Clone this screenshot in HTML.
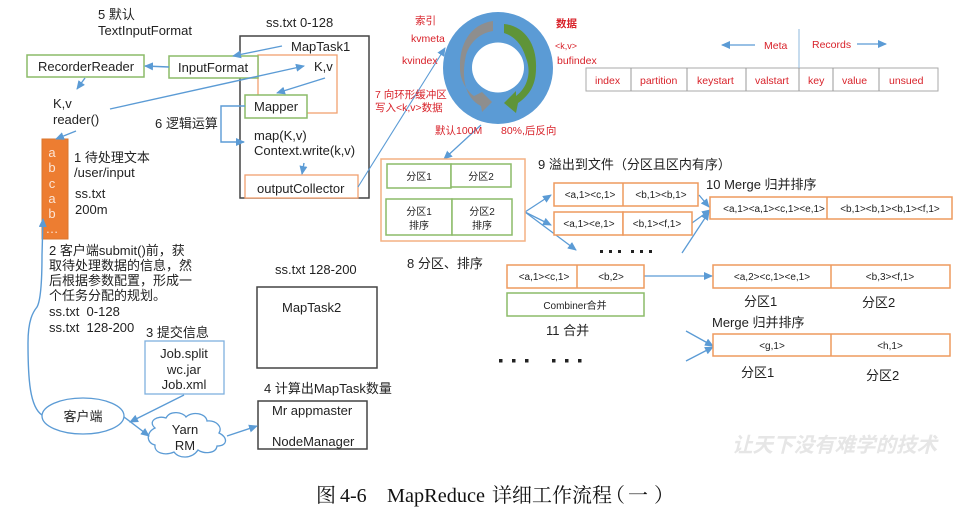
<!DOCTYPE html>
<html><head><meta charset="utf-8"><style>
html,body{margin:0;padding:0;background:#fff}
svg{display:block;filter:blur(.3px)}
text{font-family:"Liberation Sans","Noto Sans CJK SC",sans-serif;fill:#222;font-size:13px}
.r text,text.r{fill:#d8222a;font-size:10.5px}
.s text,text.s{font-size:10px}
.c{text-anchor:middle}
.t{font-family:"Liberation Serif","Noto Serif CJK SC",serif;font-size:20px;fill:#111}
.o{fill:#fbe5d6}
</style></head><body>
<svg width="964" height="515" viewBox="0 0 964 515" xmlns="http://www.w3.org/2000/svg">
<defs>
<marker id="a" markerWidth="9" markerHeight="8" refX="8" refY="4" orient="auto" markerUnits="userSpaceOnUse"><path d="M0,0L9,4L0,8Z" fill="#5B9BD5"/></marker>
</defs>
<!-- boxes -->
<g fill="#fff">
<rect x="240" y="36" width="129" height="162" stroke="#444" stroke-width="1.5"/>
<rect x="258" y="55" width="79" height="58" stroke="#F0A070" stroke-width="1.3"/>
<rect x="27" y="55" width="117" height="22" stroke="#8CBB68" stroke-width="1.5"/>
<rect x="169" y="56" width="89" height="22" stroke="#8CBB68" stroke-width="1.5"/>
<rect x="245" y="95" width="62" height="23" stroke="#8CBB68" stroke-width="1.5"/>
<rect x="245" y="175" width="113" height="23" stroke="#F0A070" stroke-width="1.3"/>
<rect x="42" y="139" width="26" height="100" fill="#ED7D31" stroke="#D9762E"/>
<rect x="145" y="341" width="79" height="53" stroke="#7FB0DE" stroke-width="1.3"/>
<rect x="257" y="287" width="120" height="81" stroke="#444" stroke-width="1.5"/>
<rect x="258" y="401" width="109" height="48" stroke="#444" stroke-width="1.5"/>
<ellipse cx="83" cy="416" rx="41" ry="18" stroke="#5B9BD5" stroke-width="1.3"/>
<path d="M155,428C147,421 158,415 166,418C170,410 183,412 186,417C192,411 206,413 207,421C216,420 223,427 219,433C228,437 228,446 217,446C216,454 203,454 198,450C192,459 179,459 174,452C165,456 154,453 155,445C146,443 146,432 155,428Z" stroke="#5B9BD5" stroke-width="1.3"/>
</g>
<!-- left arrows -->
<g fill="none" stroke="#5B9BD5" stroke-width="1.4">
<path d="M282,46L233,56" marker-end="url(#a)"/>
<path d="M169,67L145,66" marker-end="url(#a)"/>
<path d="M85,78L77,89" marker-end="url(#a)"/>
<path d="M110,109L304,66" marker-end="url(#a)"/>
<path d="M325,78L277,93" marker-end="url(#a)"/>
<path d="M245,106H221V142H244" marker-end="url(#a)"/>
<path d="M304,163L302,174" marker-end="url(#a)"/>
<path d="M76,131L56,139" marker-end="url(#a)"/>
<path d="M358,187L445,48" stroke-width="1.1" marker-end="url(#a)"/>
<path d="M42,415C30,407 28,380 28,343C28,320 33,312 37,307C41,300 42,280 42,255L43,219" marker-end="url(#a)"/>
<path d="M184,395L130,422" marker-end="url(#a)"/>
<path d="M124,417L149,436" marker-end="url(#a)"/>
<path d="M227,436L257,426" marker-end="url(#a)"/>
</g>
<!-- ring -->
<ellipse cx="498" cy="68" rx="55" ry="56" fill="#5B9BD5"/>
<ellipse cx="498" cy="67.5" rx="26" ry="25" fill="#fff"/>
<path d="M493,21C470,24 459,45 460,68C460,80 466,90 474,96L482,92L492,102L482,112L481,106C465,98 461,78 466,55C470,42 480,33 493,31Z" fill="#8E8E8E"/>
<path d="M504,24C525,26 537,45 536,68C536,84 530,95 518,103L516,113L504,103L516,91L516,96C527,88 532,73 526,58C522,44 514,36 504,33Z" fill="#5F9438"/>
<!-- table -->
<rect x="586" y="68" width="352" height="23" fill="#fff" stroke="#aaa"/>
<g stroke="#999"><path d="M631,68V91M687,68V91M746,68V91M799,68V91M833,68V91M879,68V91"/></g>
<path d="M799,29V68" stroke="#8FB8DD"/>
<g fill="none" stroke="#5B9BD5" stroke-width="1.3">
<path d="M755,45H722" marker-end="url(#a)"/>
<path d="M857,44H886" marker-end="url(#a)"/>
<path d="M481,125L444,159" marker-end="url(#a)"/>
<path d="M525,212L551,195" marker-end="url(#a)"/>
<path d="M525,212L551,225" marker-end="url(#a)"/>
<path d="M525,212L576,250" marker-end="url(#a)"/>
<path d="M699,195L709,207" marker-end="url(#a)"/>
<path d="M692,223L710,210" marker-end="url(#a)"/>
<path d="M682,253L709,212" marker-end="url(#a)"/>
<path d="M644,276H712" marker-end="url(#a)"/>
<path d="M686,331L713,346" marker-end="url(#a)"/>
<path d="M686,361L713,347" marker-end="url(#a)"/>
</g>
<!-- right boxes -->
<g fill="#fff" stroke-width="1.5">
<rect x="381" y="159" width="144" height="82" stroke="#F4B183"/>
<g stroke="#8CBB68">
<rect x="387" y="164" width="64" height="24"/><rect x="451" y="164" width="60" height="23"/>
<rect x="386" y="199" width="66" height="36"/><rect x="452" y="199" width="60" height="36"/>
<rect x="507" y="293" width="137" height="23"/>
</g>
<g stroke="#EE9A5E">
<rect x="554" y="183" width="144" height="23"/><path d="M623,183V206"/>
<rect x="554" y="212" width="69" height="23"/><rect x="623" y="212" width="69" height="23"/>
<rect x="710" y="197" width="242" height="22"/><path d="M827,197V219"/>
<rect x="507" y="265" width="137" height="23"/><path d="M577,265V288"/>
<rect x="713" y="265" width="237" height="23"/><path d="M831,265V288"/>
<rect x="713" y="334" width="237" height="22"/><path d="M831,334V356"/>
</g>
</g>
<!-- left text -->
<text x="98" y="19">5 默认</text>
<text x="98" y="35">TextInputFormat</text>
<text x="266" y="27">ss.txt 0-128</text>
<text x="291" y="51">MapTask1</text>
<text x="38" y="71">RecorderReader</text>
<text x="178" y="72">InputFormat</text>
<text x="314" y="71">K,v</text>
<text x="254" y="111">Mapper</text>
<text x="155" y="128">6 逻辑运算</text>
<text x="254" y="140">map(K,v)</text>
<text x="254" y="155">Context.write(k,v)</text>
<text x="257" y="193">outputCollector</text>
<text x="53" y="108">K,v</text>
<text x="53" y="124">reader()</text>
<text x="52" y="157" class="c o">a</text><text x="52" y="172" class="c o">b</text><text x="52" y="188" class="c o">c</text><text x="52" y="203" class="c o">a</text><text x="52" y="218" class="c o">b</text><text x="52" y="233" class="c o">…</text>
<text x="74" y="162">1 待处理文本</text>
<text x="74" y="177">/user/input</text>
<text x="75" y="198">ss.txt</text>
<text x="75" y="214">200m</text>
<text x="49" y="255">2 客户端submit()前，获</text>
<text x="49" y="270">取待处理数据的信息，然</text>
<text x="49" y="285">后根据参数配置，形成一</text>
<text x="49" y="300">个任务分配的规划。</text>
<text x="49" y="316" xml:space="preserve">ss.txt  0-128</text>
<text x="49" y="332" xml:space="preserve">ss.txt  128-200</text>
<text x="146" y="337">3 提交信息</text>
<text x="184" y="358" class="c">Job.split</text>
<text x="184" y="374" class="c">wc.jar</text>
<text x="184" y="389" class="c">Job.xml</text>
<text x="275" y="274">ss.txt 128-200</text>
<text x="282" y="312">MapTask2</text>
<text x="264" y="393">4 计算出MapTask数量</text>
<text x="272" y="415">Mr appmaster</text>
<text x="272" y="446">NodeManager</text>
<text x="83" y="421" class="c">客户端</text>
<text x="185" y="434" class="c">Yarn</text>
<text x="185" y="450" class="c">RM</text>
<!-- red text -->
<g class="r">
<text x="415" y="24">索引</text>
<text x="411" y="42">kvmeta</text>
<text x="402" y="64">kvindex</text>
<text x="556" y="27" font-weight="bold">数据</text>
<text x="555" y="49" style="font-size:9px">&lt;k,v&gt;</text>
<text x="557" y="64">bufindex</text>
<text x="375" y="98">7 向环形缓冲区</text>
<text x="375" y="111">写入&lt;k,v&gt;数据</text>
<text x="435" y="134">默认100M</text>
<text x="501" y="134">80%,后反向</text>
<text x="764" y="49">Meta</text>
<text x="812" y="48">Records</text>
<text x="595" y="84">index</text>
<text x="640" y="84">partition</text>
<text x="697" y="84">keystart</text>
<text x="755" y="84">valstart</text>
<text x="808" y="84">key</text>
<text x="842" y="84">value</text>
<text x="889" y="84">unsued</text>
</g>
<!-- right text -->
<g class="s">
<text x="419" y="180" class="c">分区1</text>
<text x="481" y="180" class="c">分区2</text>
<text x="419" y="215" class="c">分区1</text>
<text x="419" y="229" class="c">排序</text>
<text x="482" y="215" class="c">分区2</text>
<text x="482" y="229" class="c">排序</text>
<text x="590" y="198" class="c">&lt;a,1&gt;&lt;c,1&gt;</text>
<text x="661" y="198" class="c">&lt;b,1&gt;&lt;b,1&gt;</text>
<text x="589" y="227" class="c">&lt;a,1&gt;&lt;e,1&gt;</text>
<text x="657" y="227" class="c">&lt;b,1&gt;&lt;f,1&gt;</text>
<text x="774" y="212" class="c">&lt;a,1&gt;&lt;a,1&gt;&lt;c,1&gt;&lt;e,1&gt;</text>
<text x="890" y="212" class="c">&lt;b,1&gt;&lt;b,1&gt;&lt;b,1&gt;&lt;f,1&gt;</text>
<text x="544" y="280" class="c">&lt;a,1&gt;&lt;c,1&gt;</text>
<text x="611" y="280" class="c">&lt;b,2&gt;</text>
<text x="575" y="309" class="c">Combiner合并</text>
<text x="772" y="280" class="c">&lt;a,2&gt;&lt;c,1&gt;&lt;e,1&gt;</text>
<text x="890" y="280" class="c">&lt;b,3&gt;&lt;f,1&gt;</text>
<text x="772" y="349" class="c">&lt;g,1&gt;</text>
<text x="890" y="349" class="c">&lt;h,1&gt;</text>
</g>
<text x="538" y="169">9 溢出到文件（分区且区内有序）</text>
<text x="706" y="189">10 Merge 归并排序</text>
<text x="407" y="268">8 分区、排序</text>
<text x="546" y="335">11 合并</text>
<text x="744" y="306">分区1</text>
<text x="862" y="307">分区2</text>
<text x="712" y="327">Merge 归并排序</text>
<text x="741" y="377">分区1</text>
<text x="866" y="380">分区2</text>
<g fill="#222">
<rect x="600" y="250" width="3" height="3"/><rect x="609" y="250" width="3" height="3"/><rect x="618" y="250" width="3" height="3"/>
<rect x="631" y="250" width="3" height="3"/><rect x="640" y="250" width="3" height="3"/><rect x="649" y="250" width="3" height="3"/>
<rect x="499" y="359" width="3.5" height="3.5"/><rect x="512" y="359" width="3.5" height="3.5"/><rect x="525" y="359" width="3.5" height="3.5"/>
<rect x="552" y="359" width="3.5" height="3.5"/><rect x="565" y="359" width="3.5" height="3.5"/><rect x="578" y="359" width="3.5" height="3.5"/>
</g>
<text x="732" y="452" style="font-size:20.5px;fill:#e6e6e6;font-style:italic;font-weight:bold">让天下没有难学的技术</text>
<text x="316" y="502" class="t">图</text>
<text x="340" y="502" class="t">4-6</text>
<text x="387" y="502" class="t" textLength="98" lengthAdjust="spacingAndGlyphs">MapReduce</text>
<text x="492" y="502" class="t">详细工作流程</text>
<text x="605" y="502" class="t">（</text>
<text x="628" y="502" class="t">一</text>
<text x="654" y="502" class="t">）</text>
</svg>
</body></html>
